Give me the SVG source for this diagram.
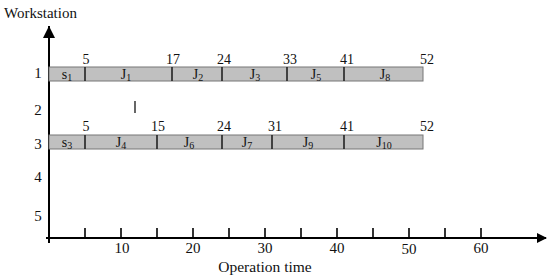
<svg xmlns="http://www.w3.org/2000/svg" width="550" height="280" viewBox="0 0 550 280">
<defs>
<style>
text{font-family:"Liberation Serif","Times New Roman",serif;fill:#111;}
.n{font-size:14px;text-anchor:middle;}
.a{font-size:15px;text-anchor:middle;}
.l{font-size:14px;text-anchor:middle;}
.bar{fill:#c0c0c0;stroke:#777;stroke-width:1;}
.div{stroke:#222;stroke-width:1.6;}
.ax{stroke:#000;stroke-width:2;fill:none;}
.tk{stroke:#000;stroke-width:1.6;}
</style>
<marker id="ah" markerWidth="10" markerHeight="10" refX="9" refY="5" orient="auto" markerUnits="userSpaceOnUse" viewBox="0 0 10 10">
<path d="M0,0 L10,5 L0,10 Z" fill="#000"/>
</marker>
<marker id="ahv" markerWidth="12" markerHeight="14" refX="12" refY="6" orient="auto" markerUnits="userSpaceOnUse" viewBox="0 0 12 12">
<path d="M0,0 L12,6 L0,12 Z" fill="#000"/>
</marker>
</defs>
<rect width="550" height="280" fill="#fff"/>
<text x="4" y="18" style="font-size:15px">Workstation</text>
<text x="265" y="272" style="font-size:15.5px;text-anchor:middle">Operation time</text>
<g id="axes">
<line class="ax" x1="49" y1="243" x2="49" y2="26" marker-end="url(#ahv)"/>
<line class="ax" x1="46" y1="238" x2="546" y2="238" marker-end="url(#ah)"/>
<g class="tk">
<line x1="85" y1="228" x2="85" y2="238"/><line x1="121" y1="228" x2="121" y2="238"/>
<line x1="157" y1="228" x2="157" y2="238"/><line x1="193" y1="228" x2="193" y2="238"/>
<line x1="229" y1="228" x2="229" y2="238"/><line x1="265" y1="228" x2="265" y2="238"/>
<line x1="301" y1="228" x2="301" y2="238"/><line x1="337" y1="228" x2="337" y2="238"/>
<line x1="373" y1="228" x2="373" y2="238"/><line x1="409" y1="228" x2="409" y2="238"/>
<line x1="445" y1="228" x2="445" y2="238"/><line x1="481" y1="228" x2="481" y2="238"/>
</g>
<text class="a" x="122" y="253">10</text>
<text class="a" x="193" y="253">20</text>
<text class="a" x="265" y="253">30</text>
<text class="a" x="337" y="253">40</text>
<text class="a" x="409" y="254">50</text>
<text class="a" x="481" y="253">60</text>
<text class="a" x="38" y="78">1</text>
<text class="a" x="38" y="115">2</text>
<text class="a" x="38" y="149">3</text>
<text class="a" x="38" y="182">4</text>
<text class="a" x="38" y="221">5</text>
</g>
<g id="ws1">
<rect class="bar" x="49" y="67" width="374" height="14"/>
<line class="div" x1="85" y1="67" x2="85" y2="81"/>
<line class="div" x1="172" y1="67" x2="172" y2="81"/>
<line class="div" x1="222" y1="67" x2="222" y2="81"/>
<line class="div" x1="287" y1="67" x2="287" y2="81"/>
<line class="div" x1="344" y1="67" x2="344" y2="81"/>
<text class="l" x="67" y="79">s<tspan font-size="10" dy="2">1</tspan></text>
<text class="l" x="126" y="79">J<tspan font-size="10" dy="2">1</tspan></text>
<text class="l" x="198" y="79">J<tspan font-size="10" dy="2">2</tspan></text>
<text class="l" x="255" y="79">J<tspan font-size="10" dy="2">3</tspan></text>
<text class="l" x="316" y="79">J<tspan font-size="10" dy="2">5</tspan></text>
<text class="l" x="385" y="79">J<tspan font-size="10" dy="2">8</tspan></text>
<text class="n" x="86" y="64">5</text>
<text class="n" x="173" y="64">17</text>
<text class="n" x="224" y="64">24</text>
<text class="n" x="290" y="64">33</text>
<text class="n" x="347" y="64">41</text>
<text class="n" x="427" y="64">52</text>
</g>
<g id="ws2">
<line stroke="#000" stroke-width="1.2" x1="135" y1="101" x2="135" y2="113"/>
</g>
<g id="ws3">
<rect class="bar" x="49" y="135" width="374" height="14"/>
<line class="div" x1="85" y1="135" x2="85" y2="149"/>
<line class="div" x1="157" y1="135" x2="157" y2="149"/>
<line class="div" x1="222" y1="135" x2="222" y2="149"/>
<line class="div" x1="272" y1="135" x2="272" y2="149"/>
<line class="div" x1="344" y1="135" x2="344" y2="149"/>
<text class="l" x="67" y="147">s<tspan font-size="10" dy="2">3</tspan></text>
<text class="l" x="121" y="147">J<tspan font-size="10" dy="2">4</tspan></text>
<text class="l" x="189" y="147">J<tspan font-size="10" dy="2">6</tspan></text>
<text class="l" x="247" y="147">J<tspan font-size="10" dy="2">7</tspan></text>
<text class="l" x="308" y="147">J<tspan font-size="10" dy="2">9</tspan></text>
<text class="l" x="384" y="147">J<tspan font-size="10" dy="2">10</tspan></text>
<text class="n" x="86" y="131">5</text>
<text class="n" x="158" y="131">15</text>
<text class="n" x="224" y="131">24</text>
<text class="n" x="275" y="131">31</text>
<text class="n" x="347" y="131">41</text>
<text class="n" x="427" y="131">52</text>
</g>
</svg>
